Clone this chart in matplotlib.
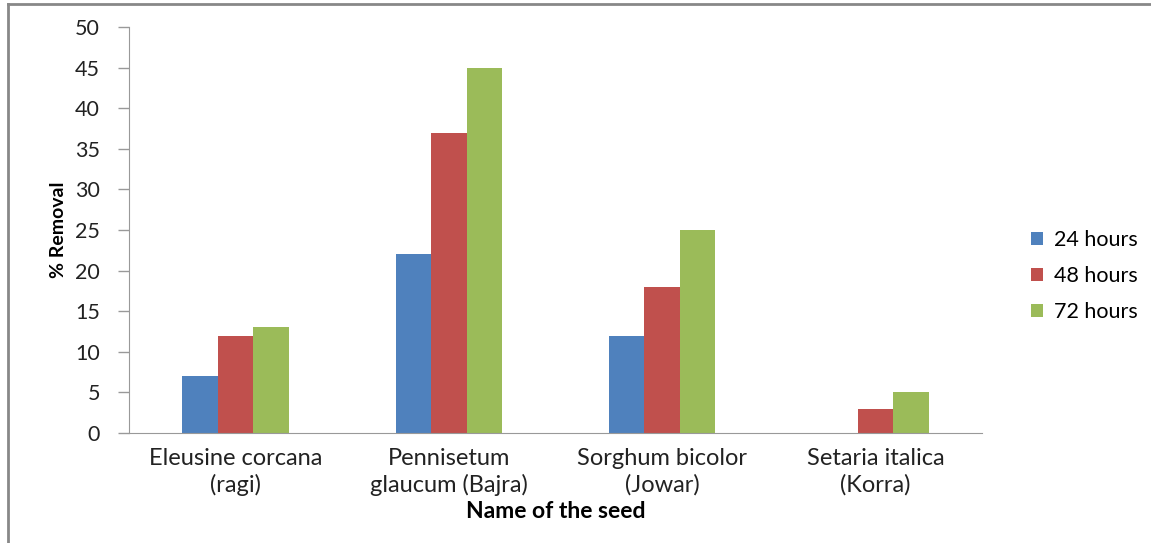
import numpy as np
import matplotlib.pyplot as plt
from matplotlib.lines import Line2D

# Veriler
seeds = ['Eleusine corcana\n(ragi)', 'Pennisetum\nglaucum (Bajra)',
         'Sorghum bicolor\n(Jowar)', 'Setaria italica\n(Korra)']
h24 = [7, 22, 12, 0]
h48 = [12, 37, 18, 3]
h72 = [13, 45, 25, 5]
series_names = ['24 hours', '48 hours', '72 hours']
colors = ['#4F81BD', '#C0504D', '#9BBB59']

plt.rcParams['font.family'] = ['Lato', 'DejaVu Sans']

fig = plt.figure(figsize=(11.51, 5.43), dpi=100)
ax = fig.add_axes([0.1121, 0.2026, 0.7411, 0.7477])

x = np.arange(len(seeds))
w = 1 / 6
for i, (vals, name) in enumerate(zip([h24, h48, h72], series_names)):
    ax.bar(x + (i - 1) * w, vals, width=w, color=colors[i], label=name)

ax.set_xlim(-0.5, len(seeds) - 0.5)
ax.set_ylim(0, 50)
ax.set_yticks(range(0, 51, 5))
ax.set_xticks(x)
ax.set_xticklabels(seeds, fontsize=17, color='#222222', linespacing=1.25)
ax.tick_params(axis='y', labelsize=15.5, labelcolor='#222222', length=8,
               width=1, color='#999999', pad=13)
ax.tick_params(axis='x', length=0, pad=11)

for s in ['top', 'right']:
    ax.spines[s].set_visible(False)
for s in ['left', 'bottom']:
    ax.spines[s].set_color('#999999')

ax.set_ylabel('% Removal', fontsize=14, fontweight='bold', labelpad=6)
ax.set_xlabel('Name of the seed', fontsize=16.5, fontweight='bold', labelpad=4)

ax.legend(loc='center left', bbox_to_anchor=(1.035, 0.387), frameon=False,
          fontsize=15.5, handlelength=0.55, handleheight=0.55,
          handletextpad=0.5, labelspacing=0.75)

# Dış çerçeve (sol ve üst kenar)
fig.add_artist(Line2D([8 / 1151, 8 / 1151], [0, 1 - 4 / 543], color='#888888', lw=2))
fig.add_artist(Line2D([8 / 1151, 1], [1 - 4 / 543, 1 - 4 / 543], color='#888888', lw=2))

fig.savefig('out.png', dpi=100)
